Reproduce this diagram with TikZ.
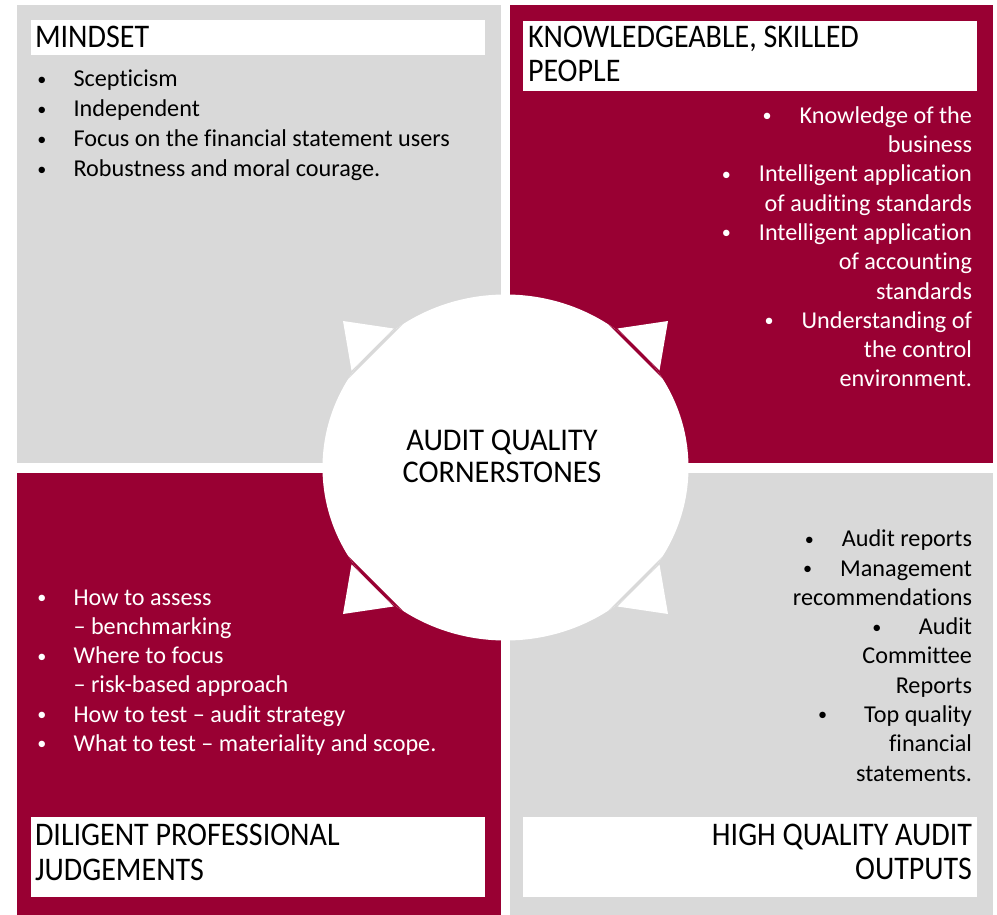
\documentclass[tikz,border=0pt]{standalone}
\usepackage{fontspec}
\usepackage{graphicx}
\setmainfont{Carlito}[RawFeature=-liga]
\newfontfamily\headfam{Carlito}[FakeStretch=0.91, RawFeature=-liga]
\newfontfamily\hubfam{Carlito}[FakeStretch=0.96, RawFeature=-liga]
\usetikzlibrary{shapes.geometric}
\definecolor{crimson}{RGB}{153,0,51}
\definecolor{panelgray}{RGB}{217,217,217}
% small bullet centred on the left edge of a box of the given width
\newcommand\bulletgap[1]{\makebox[#1pt][l]{\hbox to 0pt{\hss\raisebox{1.6pt}{\scalebox{0.75}{\textbullet}}\hss}}}
\newcommand\bodyfont{\fontsize{24.2}{29.3}\selectfont}
\newcommand\headfont{\headfam\fontsize{33}{34.5}\selectfont}
\tikzset{
  panel/.style={anchor=north west, inner sep=0, outer sep=0, draw=none},
  titlebox/.style={panel, fill=white, minimum width=454},
  txt/.style={inner sep=0, outer sep=0},
  arrowtip/.style={fill=white, draw=none},
}
\begin{document}
\begin{tikzpicture}[x=1pt,y=-1pt]
\useasboundingbox (0,0) rectangle (997,915);
\fill[white] (0,0) rectangle (997,915);

% four quadrants
\node[panel, fill=panelgray, minimum width=484.5, minimum height=458] (q1) at (16.5,5) {};
\node[panel, fill=crimson,   minimum width=483,   minimum height=458] (q2) at (510,5) {};
\node[panel, fill=crimson,   minimum width=484.5, minimum height=442.5] (q3) at (16.5,472.5) {};
\node[panel, fill=panelgray, minimum width=483,   minimum height=442.5] (q4) at (510,472.5) {};

% title boxes
\node[titlebox, minimum height=35] (t1) at (31,20) {};
\node[titlebox, minimum height=70] (t2) at (523,21) {};
\node[titlebox, minimum height=80] (t3) at (31,817) {};
\node[titlebox, minimum height=80] (t4) at (523,817) {};

% titles
\node[txt, anchor=base west] (h1) at (35,47.7)
  {\parbox[t]{440pt}{\headfont MINDSET}};
\node[txt, anchor=base west] (h2) at (528,47.3)
  {\parbox[t]{440pt}{\headfont KNOWLEDGEABLE, SKILLED\\PEOPLE}};
\node[txt, anchor=base west] (h3) at (35,845.5)
  {\parbox[t]{440pt}{\headfont DILIGENT PROFESSIONAL\\JUDGEMENTS}};
\node[txt, anchor=base east] (h4) at (972,845.3)
  {\parbox[t]{440pt}{\raggedleft\headfont HIGH QUALITY AUDIT\\OUTPUTS}};

% bullet lists
\node[txt, anchor=base west] (b1) at (42,87)
  {\parbox[t]{440pt}{\fontsize{24.2}{30}\selectfont
   \bulletgap{31.5}Scepticism\\
   \bulletgap{31.5}Independent\\
   \bulletgap{31.5}Focus on the financial statement users\\
   \bulletgap{31.5}Robustness and moral courage.}};
\node[txt, anchor=base east, text=white] (b2) at (972,123.3)
  {\parbox[t]{260pt}{\raggedleft\bodyfont
   \bulletgap{32.5}Knowledge of the\\
   business\\
   \bulletgap{32.5}Intelligent application\\
   of auditing standards\\
   \bulletgap{32.5}Intelligent application\\
   of accounting\\
   standards\\
   \bulletgap{32.5}Understanding of\\
   the control\\
   environment.}};
\node[txt, anchor=base west, text=white] (b3) at (42,605)
  {\parbox[t]{440pt}{\bodyfont
   \bulletgap{31.5}How to assess\\
   \hspace*{31.5pt}\textendash{} benchmarking\\
   \bulletgap{31.5}Where to focus\\
   \hspace*{31.5pt}\textendash{} risk-based approach\\
   \bulletgap{31.5}How to test \textendash{} audit strategy\\
   \bulletgap{31.5}What to test \textendash{} materiality and scope.}};
\node[txt, anchor=base east] (b4) at (972,546.7)
  {\parbox[t]{260pt}{\raggedleft\bodyfont
   \bulletgap{32.5}Audit reports\\
   \bulletgap{32.5}Management\\
   recommendations\\
   \bulletgap{42}Audit\\
   Committee\\
   Reports\\
   \bulletgap{41.5}Top quality\\
   financial\\
   statements.}};

% central hub
\node[ellipse, fill=white, inner sep=0, minimum width=366, minimum height=346] (hub) at (505.5,467.5) {};

% segments cut off the hub by the four chords
\begin{scope}[shift={(hub.center)}]
  \clip (0,0) ellipse [x radius=183, y radius=173];
  \fill[panelgray] (-300,54) -- (54,-300) -- (-300,-300) -- cycle;
  \fill[crimson]   (300,54) -- (-54,-300) -- (300,-300) -- cycle;
  \fill[crimson]   (-300,-54) -- (54,300) -- (-300,300) -- cycle;
  \fill[panelgray] (300,-54) -- (-54,300) -- (300,300) -- cycle;
\end{scope}

% arrow tips
\fill[arrowtip] (393.5,328.5) -- (351.5,370.5) -- (343,321) -- cycle;
\fill[arrowtip] (617.5,328.5) -- (659.5,370.5) -- (668,321) -- cycle;
\fill[arrowtip] (393.5,606.5) -- (351.5,564.5) -- (343,614) -- cycle;
\fill[arrowtip] (617.5,606.5) -- (659.5,564.5) -- (668,614) -- cycle;

% hub label
\node[txt, anchor=base] (hubtext) at (502,450.7)
  {\parbox[t]{300pt}{\centering\hubfam\fontsize{31.6}{32}\selectfont AUDIT QUALITY\\CORNERSTONES}};
\end{tikzpicture}
\end{document}
